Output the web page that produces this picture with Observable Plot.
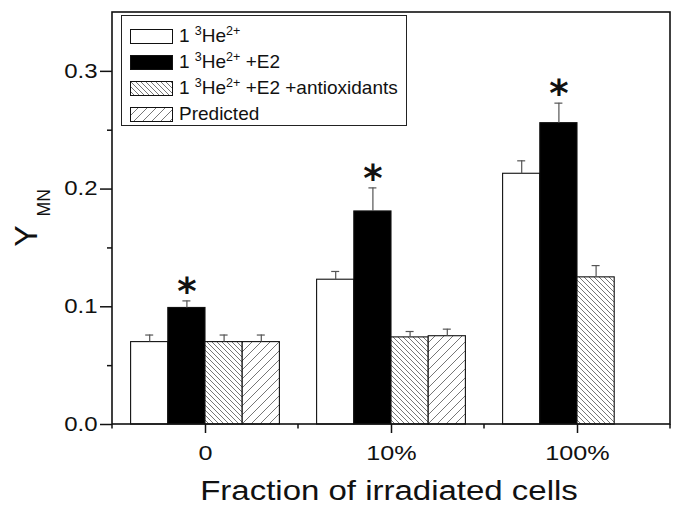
<!DOCTYPE html>
<html>
<head>
<meta charset="utf-8">
<script src="https://cdn.jsdelivr.net/npm/d3@7"></script>
<script src="https://cdn.jsdelivr.net/npm/@observablehq/plot@0.6"></script>
<style>
  html, body { margin: 0; padding: 0; background: #fff; }
  #wrap { position: relative; width: 685px; height: 505px; font-family: "Liberation Sans", Arial, sans-serif; }
  #legend { position: absolute; left: 121px; top: 15px; width: 286px; height: 111px; box-sizing: border-box;
            border: 1px solid #222; background: #fff; padding-top: 7px; }
  .row { height: 26px; display: flex; align-items: center; padding-left: 8px; font-size: 19px; color: #111; white-space: nowrap; }
  .row svg { flex: none; margin-right: 6px; }
  .row sup { font-size: 12.5px; vertical-align: 0; position: relative; top: -7px; }
  #defs { position: absolute; width: 0; height: 0; overflow: hidden; }
</style>
</head>
<body>
<div id="wrap">
  <svg id="defs" width="0" height="0">
    <defs>
      <pattern id="hatchBack" patternUnits="userSpaceOnUse" width="5" height="5">
        <rect width="5" height="5" fill="#fff"/>
        <path d="M-1,-1 L6,6 M-1,4 L1,6 M4,-1 L6,1" stroke="#666" stroke-width="0.9"/>
      </pattern>
      <pattern id="hatchFwd" patternUnits="userSpaceOnUse" width="9" height="9">
        <rect width="9" height="9" fill="#fff"/>
        <path d="M-1,10 L10,-1 M-1,1 L1,-1 M8,10 L10,8" stroke="#666" stroke-width="0.9"/>
      </pattern>
    </defs>
  </svg>
  <div id="chart"></div>
  <div id="legend"></div>
</div>
<script>
// ---- data ----
const groups = ["0", "10%", "100%"];
const series = ["1 ³He²⁺", "1 ³He²⁺ +E2", "1 ³He²⁺ +E2 +antioxidants", "Predicted"];
const legendHtml = ["1 <sup>3</sup>He<sup>2+</sup>", "1 <sup>3</sup>He<sup>2+</sup> +E2",
                    "1 <sup>3</sup>He<sup>2+</sup> +E2 +antioxidants", "Predicted"];
const valuesAlone       = [0.070, 0.123, 0.213];
const valuesE2          = [0.099, 0.181, 0.256];
const valuesAntiox      = [0.070, 0.074, 0.125];
const valuesPredicted   = [0.070, 0.075, null];
const errorsAlone       = [0.006, 0.007, 0.011];
const errorsE2          = [0.006, 0.020, 0.017];
const errorsAntiox      = [0.006, 0.005, 0.010];
const errorsPredicted   = [0.006, 0.006, null];
const significant       = [false, true, false, false]; // asterisk over E2 bars
const yMajorTicks = [0, 0.1, 0.2, 0.3];
const yMinorTicks = [0.05, 0.15, 0.25];
const xTitle = "Fraction of irradiated cells";
const fills = ["#fff", "#000", "url(#hatchBack)", "url(#hatchFwd)"];

const allValues = [valuesAlone, valuesE2, valuesAntiox, valuesPredicted];
const allErrors = [errorsAlone, errorsE2, errorsAntiox, errorsPredicted];
const rows = [];
series.forEach((s, si) => groups.forEach((g, gi) => {
  const v = allValues[si][gi];
  if (v == null) return;
  const e = allErrors[si][gi];
  rows.push({series: s, group: g, value: v, hi: v + e, sig: significant[si]});
}));

const W = 685, H = 505;
const chart = Plot.plot({
  width: W, height: H,
  marginLeft: 112, marginRight: 15, marginTop: 12, marginBottom: 81,
  style: {fontFamily: "Liberation Sans, Arial, sans-serif", color: "#111", background: "transparent"},
  fx: {domain: groups, padding: 0, round: false},
  x: {domain: series, paddingInner: 0, paddingOuter: 0.5, round: false, axis: null},
  y: {domain: [0, 0.35]},
  color: {domain: series, range: fills},
  marks: [
    Plot.barY(rows, {fx: "group", x: "series", y: "value", fill: "series", stroke: "#111", strokeWidth: 1.1}),
    Plot.ruleX(rows, {fx: "group", x: "series", y1: "value", y2: "hi", stroke: "#555", strokeWidth: 1.2}),
    Plot.tickY(rows, {fx: "group", x: "series", y: "hi", stroke: "#555", strokeWidth: 1.2, insetLeft: 14.6, insetRight: 14.6}),
    Plot.text(rows.filter(d => d.sig), {fx: "group", x: "series", y: "hi", text: () => "*",
      fontSize: 37, fontWeight: "bold", fontFamily: "DejaVu Sans", fill: "#111", dy: -9}),
    Plot.axisY({ticks: yMajorTicks, tickFormat: d3.format(".1f"), tickSize: 12, tickPadding: 3,
      fontSize: 20, label: null, strokeWidth: 1.5, stroke: "#111"}),
    Plot.axisY({ticks: yMinorTicks, tickFormat: () => "", tickSize: 5, label: null, strokeWidth: 1.5, stroke: "#111"}),
    Plot.axisFx({anchor: "bottom", tickSize: 9, tickPadding: 12, fontSize: 21, label: null, strokeWidth: 1.5, stroke: "#111"})
  ]
});
document.getElementById("chart").appendChild(chart);

// ---- decoration: frame, minor x ticks, titles, text stretch ----
const svg = d3.select(chart);
const fx = chart.scale("fx");
const yS = chart.scale("y");
const x0 = fx.range[0], x1 = fx.range[1];
const yb = yS.range[0], yt = yS.range[1];
svg.append("rect").attr("x", x0).attr("y", yt).attr("width", x1 - x0).attr("height", yb - yt)
  .attr("fill", "none").attr("stroke", "#111").attr("stroke-width", 1.6);
const bounds = groups.map(g => fx.apply(g)).concat([fx.apply(groups[groups.length - 1]) + fx.step]);
bounds.forEach(b => svg.append("line").attr("x1", b).attr("x2", b).attr("y1", yb).attr("y2", yb + 4.5)
  .attr("stroke", "#111").attr("stroke-width", 1.5));

svg.selectAll('g[aria-label$="tick label"] text').each(function() {
  const t = d3.select(this);
  const tr = t.attr("transform");
  if (tr) t.attr("transform", tr + " scale(1.2,1)");
});

svg.append("text").attr("transform", `translate(${(x0 + x1) / 2 - 2},500) scale(1.2,1)`)
  .attr("text-anchor", "middle").attr("font-size", 27.5).attr("fill", "#111").text(xTitle);

const yl = svg.append("text").attr("transform", `translate(37,${(yt + yb) / 2}) rotate(-90)`)
  .attr("text-anchor", "middle").attr("font-size", 32).attr("fill", "#111");
yl.append("tspan").text("Y");
yl.append("tspan").attr("font-size", 17.5).attr("dx", 9).attr("dy", 13).text("MN");

// ---- legend ----
const leg = document.getElementById("legend");
series.forEach((s, i) => {
  const row = document.createElement("div");
  row.className = "row";
  row.innerHTML = `<svg width="43" height="15"><rect x="0.5" y="0.5" width="42" height="14" fill="${fills[i]}" stroke="#111" stroke-width="1"/></svg><span>${legendHtml[i]}</span>`;
  leg.appendChild(row);
});
</script>
</body>
</html>
